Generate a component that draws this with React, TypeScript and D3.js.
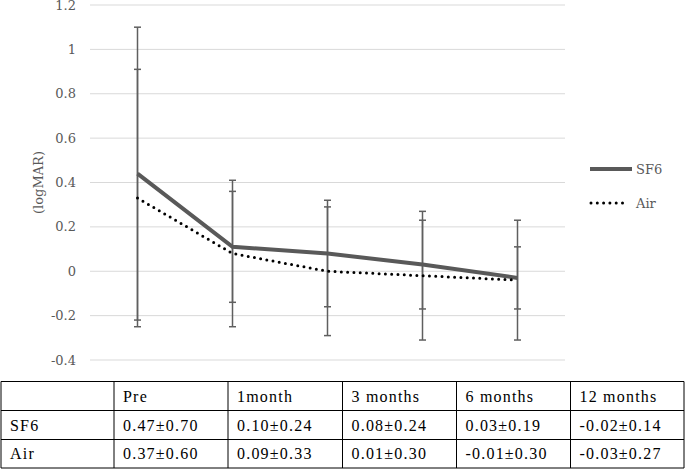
import React from "react";
import * as d3 from "d3";

const categories = ["Pre", "1month", "3 months", "6 months", "12 months"];
const yTicks = [1.2, 1, 0.8, 0.6, 0.4, 0.2, 0, -0.2, -0.4];
const sf6Mean = [0.44, 0.11, 0.08, 0.03, -0.03];
const sf6Err = [0.66, 0.25, 0.24, 0.2, 0.14];
const airMean = [0.33, 0.08, 0.0, -0.02, -0.04];
const airErr = [0.58, 0.33, 0.29, 0.29, 0.27];
const seriesNames = ["SF6", "Air"];
const tableHeader = ["", "Pre", "1month", "3 months", "6 months", "12 months"];
const tableSF6 = ["SF6", "0.47\u00b10.70", "0.10\u00b10.24", "0.08\u00b10.24", "0.03\u00b10.19", "-0.02\u00b10.14"];
const tableAir = ["Air", "0.37\u00b10.60", "0.09\u00b10.33", "0.01\u00b10.30", "-0.01\u00b10.30", "-0.03\u00b10.27"];

const W = 685;
const H = 469;
const FONT_A = "DejaVu Serif";
const FONT_B = "Liberation Serif";
const GRAY = "#595959";

export default function App() {
  const x = d3.scalePoint<string>().domain(categories).range([90, 565]).padding(0.5);
  const y = d3.scaleLinear().domain([-0.4, 1.2]).range([360, 5]);
  const line = d3
    .line<number>()
    .x((_, i) => x(categories[i]) as number)
    .y((d) => y(d));

  const errBars = (means: number[], errs: number[], key: string) =>
    means.map((m, i) => {
      const cx = x(categories[i]) as number;
      const yt = y(m + errs[i]);
      const yb = y(m - errs[i]);
      return (
        <g key={key + i} stroke="#5f5f5f" strokeWidth={1.5}>
          <line x1={cx} x2={cx} y1={yt} y2={yb} />
          <line x1={cx - 3.5} x2={cx + 3.5} y1={yt} y2={yt} />
          <line x1={cx - 3.5} x2={cx + 3.5} y1={yb} y2={yb} />
        </g>
      );
    });

  const tableRows = [tableHeader, tableSF6, tableAir];
  const colXs = [1, 114, 228, 342.5, 456.5, 570.5, 684];
  const rowY = [381.5, 410.5, 439.5, 468];

  const txt = (font: string, size: number, fill: string, extra: React.CSSProperties = {}) => ({
    fontFamily: font,
    fontSize: size + "px",
    fill,
    ...extra,
  });

  return (
    <div style={{ position: "absolute", left: 0, top: 0 }}>
      <svg width={W} height={H} style={{ display: "block", background: "#fff" }}>
        {yTicks.map((t) => (
          <line key={"g" + t} x1={90} x2={565} y1={y(t)} y2={y(t)} stroke="#d9d9d9" strokeWidth={1} />
        ))}
        {yTicks.map((t) => (
          <text
            key={"t" + t}
            x={76}
            y={y(t)}
            dy="0.35em"
            textAnchor="end"
            style={txt(FONT_A, 13, GRAY)}
          >
            {t === 0 ? "0" : String(t)}
          </text>
        ))}
        <text
          transform={`translate(38,${y(0.4)}) rotate(-90)`}
          textAnchor="middle"
          dy="0.35em"
          style={txt(FONT_A, 13, GRAY)}
        >
          (logMAR)
        </text>

        {errBars(sf6Mean, sf6Err, "s")}
        {errBars(airMean, airErr, "a")}

        <path d={line(sf6Mean) || ""} fill="none" stroke={GRAY} strokeWidth={4} />
        <path
          d={line(airMean) || ""}
          fill="none"
          stroke="#000"
          strokeWidth={3}
          strokeLinecap="round"
          strokeDasharray="0 6.3"
        />

        <line x1={590} x2={632} y1={169} y2={169} stroke={GRAY} strokeWidth={4} />
        <text x={636} y={174} style={txt(FONT_A, 13, GRAY)}>
          {seriesNames[0]}
        </text>
        <line
          x1={591}
          x2={628}
          y1={203}
          y2={203}
          stroke="#000"
          strokeWidth={3}
          strokeLinecap="round"
          strokeDasharray="0 6.3"
        />
        <text x={636} y={208} style={txt(FONT_A, 13, GRAY)}>
          {seriesNames[1]}
        </text>

        <g stroke="#000" strokeWidth={1}>
          {rowY.map((ry, i) => (
            <line key={"rl" + i} x1={colXs[0]} x2={colXs[6]} y1={ry} y2={ry} />
          ))}
          {colXs.map((cx, i) => (
            <line key={"cl" + i} x1={cx} x2={cx} y1={rowY[0]} y2={rowY[3]} />
          ))}
        </g>
        {tableRows.map((row, ri) =>
          row.map((cell, ci) => (
            <text
              key={"c" + ri + "-" + ci}
              x={colXs[ci] + 9}
              y={(rowY[ri] + rowY[ri + 1]) / 2}
              dy="0.35em"
              style={txt(FONT_B, 16, "#000", { letterSpacing: "1.2px" })}
            >
              {cell}
            </text>
          ))
        )}
      </svg>
    </div>
  );
}
